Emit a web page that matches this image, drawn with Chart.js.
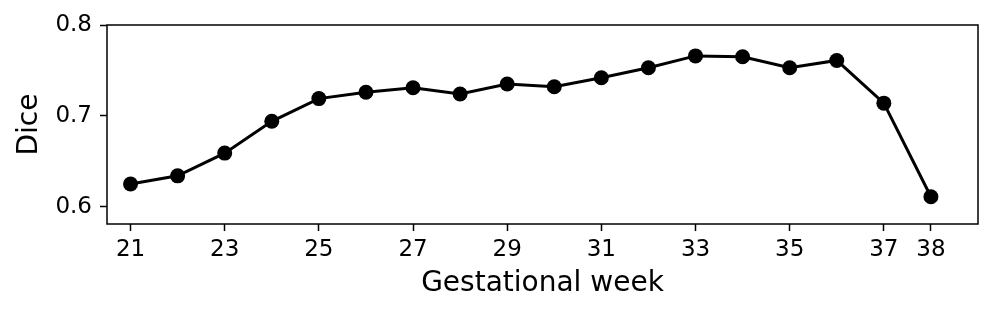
<!DOCTYPE html>
<html>
<head>
<meta charset="utf-8">
<script src="https://cdn.jsdelivr.net/npm/chart.js@4.4.0/dist/chart.umd.min.js"></script>
<style>
    body { margin: 0; background: #fff; }
    #diceChart { display: block; }
</style>
</head>
<body>
<canvas id="diceChart" width="995" height="317"></canvas>
<script>
// Data
const weeks = [21, 22, 23, 24, 25, 26, 27, 28, 29, 30, 31, 32, 33, 34, 35, 36, 37, 38];
const diceScores = [0.625, 0.634, 0.659, 0.694, 0.719, 0.726, 0.731, 0.724, 0.735, 0.732,
                    0.742, 0.753, 0.766, 0.765, 0.753, 0.761, 0.714, 0.611];
const xTickValues = [21, 23, 25, 27, 29, 31, 33, 35, 37, 38];
const yTickValues = [0.6, 0.7, 0.8];

const FONT_FAMILY = '"DejaVu Sans", sans-serif';

// Full rectangular frame round the plot area (like matplotlib spines)
const framePlugin = {
    id: 'frame',
    afterDatasetsDraw(chart) {
        const { ctx, chartArea } = chart;
        ctx.save();
        ctx.strokeStyle = '#000';
        ctx.lineWidth = 1.5;
        ctx.strokeRect(chartArea.left, chartArea.top,
            chartArea.right - chartArea.left, chartArea.bottom - chartArea.top);
        ctx.restore();
    }
};

const ctx = document.getElementById('diceChart').getContext('2d');
const diceChart = new Chart(ctx, {
    type: 'line',
    data: {
        datasets: [{
            label: 'Dice',
            data: weeks.map((w, i) => ({ x: w, y: diceScores[i] })),
            borderColor: '#000',
            backgroundColor: '#000',
            borderWidth: 3,
            pointRadius: 7.5,
            pointHoverRadius: 7.5,
            pointBackgroundColor: '#000',
            pointBorderWidth: 0,
            tension: 0,
            clip: false
        }]
    },
    options: {
        responsive: false,
        animation: false,
        layout: { padding: { top: 25, right: 17, left: 0, bottom: 0 } },
        plugins: {
            legend: { display: false },
            tooltip: { enabled: false }
        },
        scales: {
            x: {
                type: 'linear',
                min: 20.5,
                max: 39,
                afterBuildTicks: scale => {
                    scale.ticks = xTickValues.map(v => ({ value: v }));
                },
                afterFit: scale => { scale.height = 93; },
                grid: {
                    drawOnChartArea: false,
                    drawTicks: true,
                    tickLength: 7,
                    tickWidth: 1.5,
                    tickColor: '#000'
                },
                border: { display: false },
                ticks: {
                    color: '#000',
                    font: { family: FONT_FAMILY, size: 23 },
                    padding: 5,
                    maxRotation: 0,
                    autoSkip: false,
                    callback: value => String(value)
                },
                title: {
                    display: true,
                    text: 'Gestational week',
                    color: '#000',
                    font: { family: FONT_FAMILY, size: 28 },
                    padding: { top: 0, bottom: 16 }
                }
            },
            y: {
                type: 'linear',
                min: 0.581,
                max: 0.8,
                afterBuildTicks: scale => {
                    scale.ticks = yTickValues.map(v => ({ value: v }));
                },
                afterFit: scale => { scale.width = 107; },
                grid: {
                    drawOnChartArea: false,
                    drawTicks: true,
                    tickLength: 7,
                    tickWidth: 1.5,
                    tickColor: '#000'
                },
                border: { display: false },
                ticks: {
                    color: '#000',
                    font: { family: FONT_FAMILY, size: 23 },
                    padding: 8,
                    autoSkip: false,
                    callback: value => value.toFixed(1)
                },
                title: {
                    display: true,
                    text: 'Dice',
                    color: '#000',
                    font: { family: FONT_FAMILY, size: 28 },
                    padding: { top: 13, bottom: 0 }
                }
            }
        }
    },
    plugins: [framePlugin]
});
</script>
</body>
</html>
